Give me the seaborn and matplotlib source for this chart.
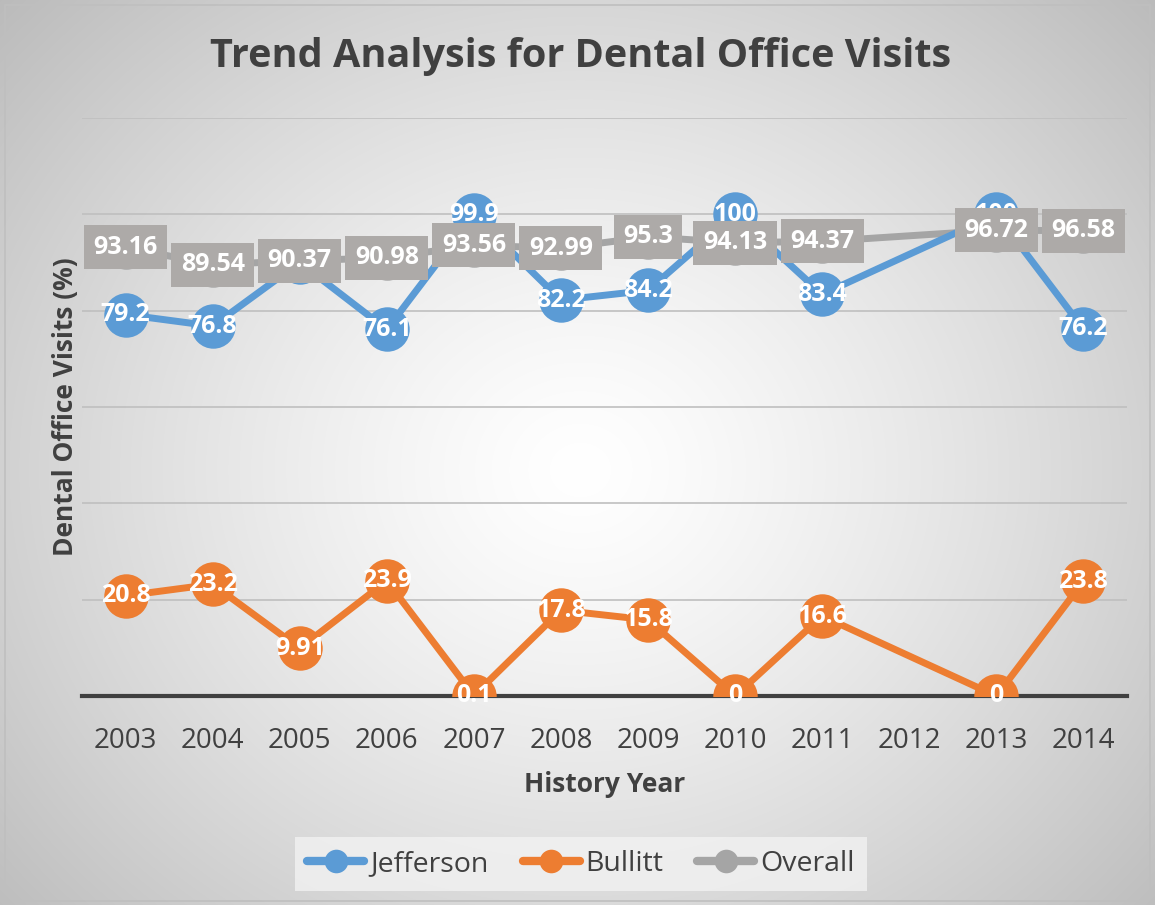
import numpy as np
import pandas as pd
import matplotlib
matplotlib.use("Agg")
import matplotlib.pyplot as plt
from matplotlib.lines import Line2D
import seaborn as sns

years = ["2003", "2004", "2005", "2006", "2007", "2008", "2009", "2010", "2011", "2012", "2013", "2014"]
jefferson = [79.2, 76.8, 90.0, 76.1, 99.9, 82.2, 84.2, 100, 83.4, np.nan, 100, 76.2]
bullitt = [20.8, 23.2, 9.91, 23.9, 0.1, 17.8, 15.8, 0, 16.6, np.nan, 0, 23.8]
overall = [93.16, 89.54, 90.37, 90.98, 93.56, 92.99, 95.3, 94.13, 94.37, np.nan, 96.72, 96.58]

sns.set_theme(style="white")
plt.rcParams['font.family'] = ['Open Sans', 'DejaVu Sans']

W, H = 11.55, 9.05
fig = plt.figure(figsize=(W, H), dpi=100)

# radial gradient background
bg = fig.add_axes([0, 0, 1, 1], zorder=-10)
yy, xx = np.mgrid[0:905, 0:1155]
cx, cy = 580, 470
d = np.sqrt(((xx - cx) / 700.0) ** 2 + ((yy - cy) / 620.0) ** 2)
shade = 1.0 - 0.23 * np.clip(d, 0, 1.2) ** 1.3
img = np.dstack([shade, shade, shade])
bg.imshow(img, aspect='auto', extent=[0, 1, 0, 1], origin='upper')
bg.set_xlim(0, 1); bg.set_ylim(0, 1)
bg.axis('off')
bg.add_patch(plt.Rectangle((0.004, 0.004), 0.992, 0.991, fill=False, edgecolor='#BFBFBF', linewidth=1.2, transform=bg.transAxes))

ax = fig.add_axes([82 / 1155, 1 - 696 / 905, (1127 - 82) / 1155, (696 - 118) / 905])
ax.patch.set_alpha(0)

df = pd.DataFrame({"idx": np.arange(len(years)), "Jefferson": jefferson, "Bullitt": bullitt, "Overall": overall})

colors = {"Jefferson": "#5B9BD5", "Bullitt": "#ED7D31", "Overall": "#A5A5A5"}
zord = {"Overall": 2, "Jefferson": 3, "Bullitt": 3}
for name in ["Overall", "Jefferson", "Bullitt"]:
    sub = df[["idx", name]].dropna()
    sns.lineplot(data=sub, x="idx", y=name, ax=ax, color=colors[name], linewidth=5,
                 marker='o', markersize=32, markeredgewidth=0, zorder=zord[name], legend=False)

lab_kw = dict(ha='center', va='center', color='white', fontweight='bold', fontsize=18)
for i, v in enumerate(jefferson):
    if not np.isnan(v):
        ax.text(i, v, f"{v:g}", zorder=6, **lab_kw)
for i, v in enumerate(bullitt):
    if not np.isnan(v):
        ax.text(i, v, f"{v:g}", zorder=6, **lab_kw)
for i, v in enumerate(overall):
    if not np.isnan(v):
        ax.text(i, v, f"{v:g}", zorder=8,
                bbox=dict(boxstyle='square,pad=0.38', facecolor='#ADAAA8', edgecolor='none'), **lab_kw)

ax.set_xlim(-0.5, len(years) - 0.5)
ax.set_ylim(0, 120)
ax.set_yticks(np.arange(0, 121, 20))
ax.set_yticklabels([])
ax.tick_params(axis='y', length=0, pad=0)
ax.yaxis.grid(True, color='#BFBFBF', linewidth=1.2)
ax.set_axisbelow(True)
ax.set_xticks(np.arange(len(years)))
ax.set_xticklabels(years, fontsize=20, color='#404040')
ax.tick_params(axis='x', length=0, pad=22)
for s in ['top', 'right', 'left']:
    ax.spines[s].set_visible(False)
ax.spines['bottom'].set_color('#404040')
ax.spines['bottom'].set_linewidth(3)
ax.spines['bottom'].set_zorder(2.5)

ax.set_xlabel("History Year", fontsize=19, fontweight='bold', color='#404040', labelpad=12)
ax.set_ylabel("Dental Office Visits (%)", fontsize=19, fontweight='bold', color='#404040', labelpad=2)

fig.text(581 / 1155, 1 - 57 / 905, "Trend Analysis for Dental Office Visits", ha='center', va='center',
         fontsize=28.5, fontweight='bold', color='#404040')

hs = [Line2D([], [], color=colors[n], linewidth=6, marker='o', markersize=17, markeredgewidth=0)
      for n in ["Jefferson", "Bullitt", "Overall"]]
leg = fig.legend(hs, ["Jefferson", "Bullitt", "Overall"], loc='center', bbox_to_anchor=(581 / 1155, 1 - 864 / 905),
                 ncol=3, fontsize=20.5, frameon=True, facecolor='#F2F2F2', edgecolor='none', fancybox=False,
                 handlelength=2.0, handletextpad=0.2, columnspacing=1.2, borderpad=0.45)
for t in leg.get_texts():
    t.set_color('#404040')

fig.savefig("out.png", dpi=100)
